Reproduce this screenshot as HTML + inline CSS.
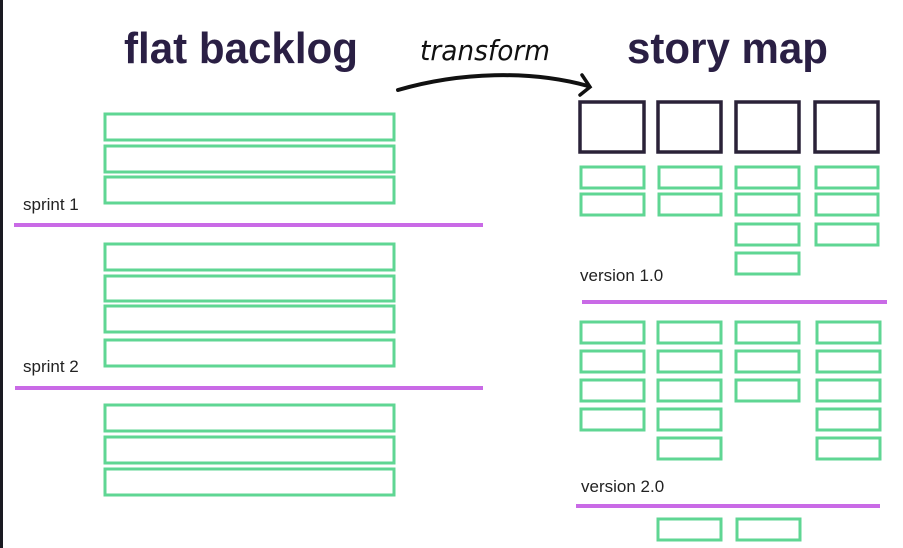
<!DOCTYPE html>
<html><head><meta charset="utf-8"><style>
html,body{margin:0;padding:0;background:#fff;width:903px;height:548px;overflow:hidden}
svg{display:block}
.g{fill:none;stroke:#5fd693;stroke-width:3}
.d{fill:none;stroke:#2a2238;stroke-width:3.5}
.p{stroke:#c96ae6;stroke-width:4}
.t{font-family:"Liberation Sans",sans-serif;font-weight:bold;font-size:44px;fill:#2a1f44}
.l{font-family:"Liberation Sans",sans-serif;font-size:17px;fill:#222}
</style></head><body>
<svg width="903" height="548" viewBox="0 0 903 548">
<rect x="0" y="0" width="3" height="548" fill="#1a1a22"/>
<text class="t" x="124" y="63" textLength="234" lengthAdjust="spacingAndGlyphs">flat backlog</text>
<text class="t" x="627" y="63" textLength="201" lengthAdjust="spacingAndGlyphs">story map</text>
<text x="420" y="60" font-family="DejaVu Sans,sans-serif" font-size="28" fill="#111" textLength="130" lengthAdjust="spacingAndGlyphs" font-style="italic">transform</text>
<path d="M398,90 C460,72 530,70 588,86" fill="none" stroke="#111" stroke-width="4" stroke-linecap="round"/>
<path d="M582,75 L590,87 L580,95" fill="none" stroke="#111" stroke-width="3.5" stroke-linecap="round"/>
<g class="g">
<rect x="105" y="114" width="289" height="26"/>
<rect x="105" y="146" width="289" height="26"/>
<rect x="105" y="177" width="289" height="26"/>
<rect x="105" y="244" width="289" height="26"/>
<rect x="105" y="276" width="289" height="25"/>
<rect x="105" y="306" width="289" height="26"/>
<rect x="105" y="340" width="289" height="26"/>
<rect x="105" y="405" width="289" height="26"/>
<rect x="105" y="437" width="289" height="26"/>
<rect x="105" y="469" width="289" height="26"/>
</g>
<text class="l" x="23" y="210">sprint 1</text>
<text class="l" x="23" y="372">sprint 2</text>
<line class="p" x1="14" y1="225" x2="483" y2="225"/>
<line class="p" x1="15" y1="388" x2="483" y2="388"/>
<g class="d">
<rect x="580" y="102" width="64" height="50"/>
<rect x="658" y="102" width="63" height="50"/>
<rect x="736" y="102" width="63" height="50"/>
<rect x="815" y="102" width="63" height="50"/>
</g>
<g class="g">
<rect x="581" y="167" width="63" height="21"/><rect x="581" y="194" width="63" height="21"/>
<rect x="659" y="167" width="62" height="21"/><rect x="659" y="194" width="62" height="21"/>
<rect x="736" y="167" width="63" height="21"/><rect x="736" y="194" width="63" height="21"/><rect x="736" y="224" width="63" height="21"/><rect x="736" y="253" width="63" height="21"/>
<rect x="816" y="167" width="62" height="21"/><rect x="816" y="194" width="62" height="21"/><rect x="816" y="224" width="62" height="21"/>

<rect x="581" y="322" width="63" height="21"/><rect x="581" y="351" width="63" height="21"/><rect x="581" y="380" width="63" height="21"/><rect x="581" y="409" width="63" height="21"/>
<rect x="658" y="322" width="63" height="21"/><rect x="658" y="351" width="63" height="21"/><rect x="658" y="380" width="63" height="21"/><rect x="658" y="409" width="63" height="21"/><rect x="658" y="438" width="63" height="21"/>
<rect x="736" y="322" width="63" height="21"/><rect x="736" y="351" width="63" height="21"/><rect x="736" y="380" width="63" height="21"/>
<rect x="817" y="322" width="63" height="21"/><rect x="817" y="351" width="63" height="21"/><rect x="817" y="380" width="63" height="21"/><rect x="817" y="409" width="63" height="21"/><rect x="817" y="438" width="63" height="21"/>

<rect x="658" y="519" width="63" height="21"/><rect x="737" y="519" width="63" height="21"/>
</g>
<text class="l" x="580" y="281">version 1.0</text>
<text class="l" x="581" y="492">version 2.0</text>
<line class="p" x1="582" y1="302" x2="887" y2="302"/>
<line class="p" x1="576" y1="506" x2="880" y2="506"/>
</svg>
</body></html>
